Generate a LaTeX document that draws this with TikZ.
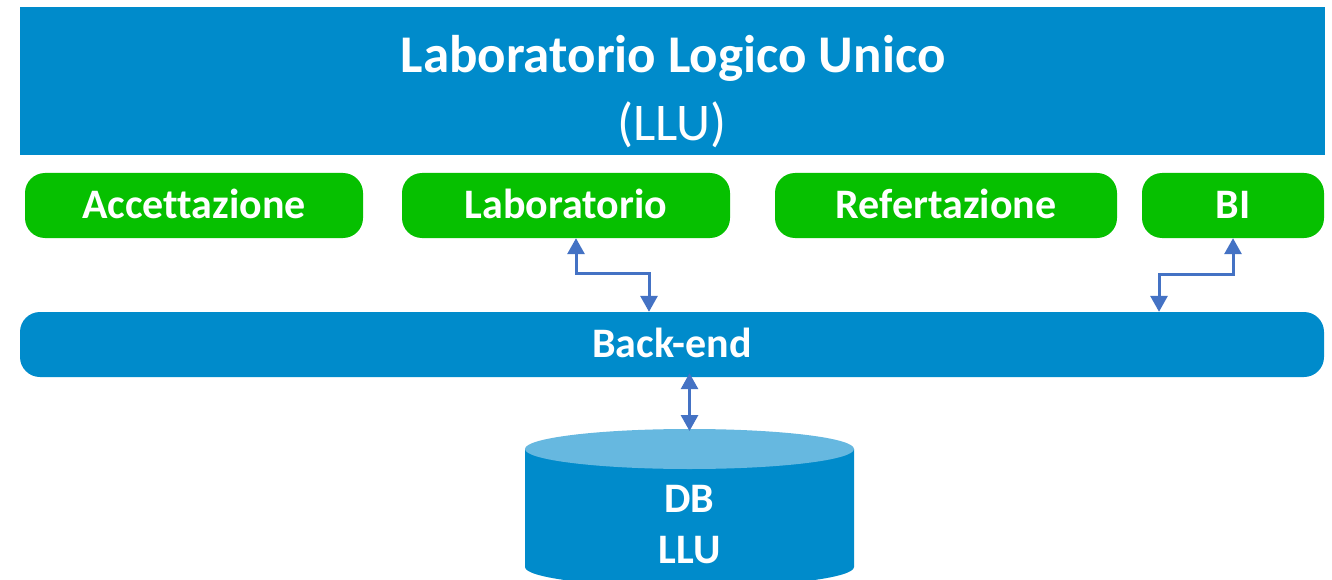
\documentclass[tikz,border=0pt]{standalone}
\usepackage{fontspec}
\setmainfont{Carlito}[Ligatures=NoCommon]
\usetikzlibrary{arrows.meta}
\definecolor{llublue}{RGB}{0,139,203}
\definecolor{llugreen}{RGB}{6,192,0}
\definecolor{arrowblue}{RGB}{68,114,196}
\definecolor{dbtopcol}{RGB}{102,184,224}
\begin{document}
\begin{tikzpicture}[x=1pt,y=-1pt,
  banner/.style={fill=llublue, inner sep=0pt, minimum width=1305pt, minimum height=148pt},
  modbox/.style={fill=llugreen, rounded corners=20pt, inner sep=0pt, minimum height=65pt,
    text=white, font=\fontsize{42}{48}\selectfont\bfseries, text height=32pt, text depth=6pt},
  backbox/.style={fill=llublue, rounded corners=20pt, inner sep=0pt, minimum height=65pt,
    minimum width=1304pt, text=white, font=\fontsize{42}{48}\selectfont\bfseries,
    text height=32pt, text depth=6pt},
  dbtext/.style={text=white, inner sep=0pt, anchor=base, font=\fontsize{42}{48}\selectfont\bfseries},
  conn/.style={draw=arrowblue, line width=3pt,
    {Triangle[width=17pt,length=16pt]}-{Triangle[width=17pt,length=16pt]}}
]
\useasboundingbox (0,0) rectangle (1332,580);
\fill[white] (0,0) rectangle (1332,580);

% banner
\node[banner] (banner) at (672.5,81) {};
\node[text=white, inner sep=0pt, anchor=base, font=\fontsize{53}{60}\selectfont\bfseries]
  (title) at (673,73) {Laboratorio Logico Unico};
\node[text=white, inner sep=0pt, anchor=base, font=\fontsize{53}{60}\selectfont]
  (subtitle) at (672,141) {(LLU)};

% modules
\node[modbox, minimum width=338pt] (acc) at (194,205.5) {Accettazione};
\node[modbox, minimum width=328pt] (lab) at (566,205.5) {Laboratorio};
\node[modbox, minimum width=342pt] (ref) at (946,205.5) {Refertazione};
\node[modbox, minimum width=182pt] (bi) at (1233,205.5) {BI};

% back-end
\node[backbox] (backend) at (672,344.5) {Back-end};

% database cylinder
\fill[llublue] (525,449) -- (525,567) arc[start angle=180, end angle=360, x radius=164.5pt, y radius=20pt] -- (854,449) -- cycle;
\fill[dbtopcol] (689.5,449) ellipse[x radius=164.5pt, y radius=20pt];
\coordinate (dbtop) at (689.5,429);
\node[dbtext] (db1) at (689.5,512) {DB};
\node[dbtext] (db2) at (689.5,563) {LLU};

% connectors
\draw[conn] (lab.south -| 576,0) |- (649,273) -- (backend.north -| 649,0);
\draw[conn] (bi.south) |- (1159,274) -- (backend.north -| 1159,0);
\draw[conn] ([yshift=4pt]backend.south -| 689.5,0) -- ([yshift=-2pt]dbtop);
\end{tikzpicture}
\end{document}
